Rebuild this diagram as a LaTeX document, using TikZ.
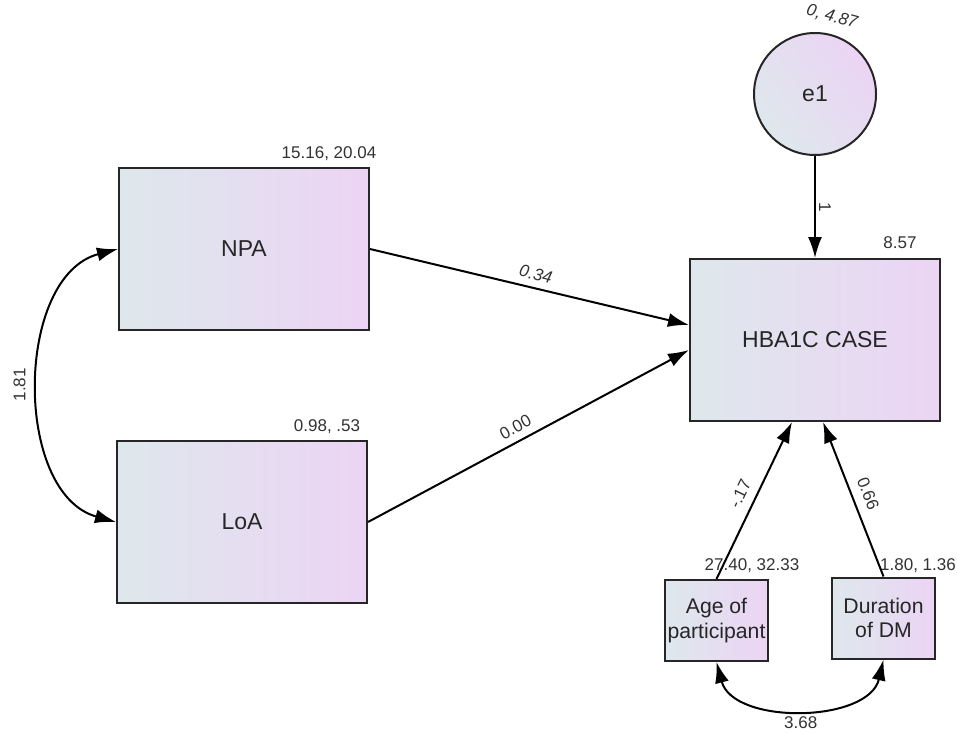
\documentclass[tikz,border=0pt]{standalone}
\usepackage{fontspec}
\setmainfont{Liberation Sans}
\usetikzlibrary{arrows.meta}
\definecolor{boxleft}{RGB}{222,232,236}
\definecolor{boxright}{RGB}{236,212,244}
\definecolor{numgray}{RGB}{50,50,50}
\begin{document}
\begin{tikzpicture}[x=0.5pt,y=-0.5pt,
  var/.style={draw=black!85,line width=1pt,left color=boxleft,right color=boxright,text=black!85,font=\fontsize{11.5}{13}\selectfont},
  bigvar/.style={var,minimum width=125pt,minimum height=81pt},
  smallvar/.style={var,minimum width=51.5pt,minimum height=40.5pt,inner sep=0pt,align=center,font=\fontsize{10.6}{12.4}\selectfont},
  errvar/.style={var,circle,minimum size=61pt,shading angle=125},
  regarrow/.style={line width=1pt,-{Latex[length=10.5pt,width=7pt]}},
  covarrow/.style={line width=1pt,{Latex[length=10.5pt,width=7pt]}-{Latex[length=10.5pt,width=7pt]}},
  num/.style={font=\fontsize{8.5}{10}\selectfont,text=numgray,inner sep=1.5pt}]
\useasboundingbox (0,0) rectangle (957,733);
\node[bigvar] (npa) at (244,249) {NPA};
\node[bigvar] (loa) at (242,522) {LoA};
\node[bigvar] (hba) at (815,340) {HBA1C CASE};
\node[errvar] (e1) at (815,94) {e1};
\node[smallvar] (age) at (716.5,620.5) {Age of\\participant};
\node[smallvar] (dur) at (883.5,618) {Duration\\of DM};
\node[num] (npavar) at (329,154) {15.16, 20.04};
\node[num] (loavar) at (327,427) {0.98, .53};
\node[num] (hbaint) at (900,243) {8.57};
\node[num,rotate=-15] (e1var) at (832,17) {\itshape 0, 4.87};
\node[num] (agevar) at (752,566) {27.40, 32.33};
\node[num] (durvar) at (918,566) {1.80, 1.36};
\draw[regarrow] (e1) -- (hba) node[num,midway,above,sloped] (w1) {1};
\draw[regarrow] (npa.east) -- ([yshift=7.5pt]hba.west) node[num,pos=0.51,above=2pt,sloped] (w2) {\itshape 0.34};
\draw[regarrow] (loa.east) -- ([yshift=-5pt]hba.west) node[num,pos=0.48,above=2pt,sloped] (w3) {0.00};
\draw[regarrow] (age.north) -- ([xshift=-11.5pt]hba.south) node[num,midway,above=3pt,sloped] (w4) {-.17};
\draw[regarrow] (dur.north) -- ([xshift=4pt]hba.south) node[num,midway,above=3pt,sloped] (w5) {0.66};
\draw[covarrow] (loa.west) to[bend left=75] node[num,midway,above=5pt,sloped] (c1) {1.81} (npa.west);
\draw[covarrow] (age.south) to[bend right=76] node[num,midway,below=2pt] (c2) {3.68} (dur.south);
\end{tikzpicture}
\end{document}
